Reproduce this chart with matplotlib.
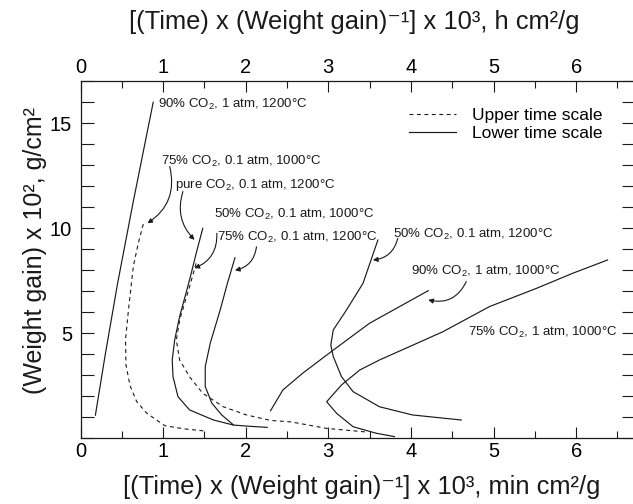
import matplotlib
matplotlib.use("Agg")
import matplotlib.pyplot as plt
from matplotlib.ticker import MultipleLocator, FixedLocator

plt.rcParams["font.family"] = ["Liberation Sans", "DejaVu Sans"]
plt.rcParams["mathtext.fontset"] = "custom"
plt.rcParams["mathtext.rm"] = "Liberation Sans"
plt.rcParams["mathtext.it"] = "Liberation Sans:italic"
plt.rcParams["mathtext.bf"] = "Liberation Sans:bold"

# curves: x = (time / weight gain) x 1e3, y = weight gain x 1e2
co2_90_1atm_1200_x = [0.18, 0.30, 0.45, 0.64, 0.88]
co2_90_1atm_1200_y = [1.1, 4.0, 7.4, 11.3, 16.0]

co2_75_01atm_1000_x = [0.76, 0.70, 0.64, 0.58, 0.545, 0.55, 0.60, 0.68, 0.80, 1.02, 1.25, 1.50]
co2_75_01atm_1000_y = [10.2, 9.3, 8.2, 6.1, 4.7, 3.5, 2.5, 1.75, 1.2, 0.6, 0.45, 0.35]

pure_co2_01atm_1200_x = [1.48, 1.40, 1.32, 1.20, 1.14, 1.11, 1.12, 1.18, 1.32, 1.61, 1.85, 2.05, 2.26]
pure_co2_01atm_1200_y = [10.0, 8.8, 7.54, 5.8, 4.68, 3.73, 2.93, 1.98, 1.35, 0.87, 0.63, 0.57, 0.52]

co2_50_01atm_1000_x = [1.40, 1.32, 1.20, 1.16, 1.20, 1.32, 1.48, 1.73, 2.01, 2.30, 2.55, 2.98, 3.46]
co2_50_01atm_1000_y = [8.33, 7.22, 5.63, 4.68, 3.73, 2.93, 2.14, 1.5, 1.11, 0.85, 0.78, 0.47, 0.30]

co2_75_01atm_1200_x = [1.87, 1.78, 1.69, 1.57, 1.51, 1.51, 1.59, 1.71, 1.85]
co2_75_01atm_1200_y = [8.6, 7.4, 6.1, 4.52, 3.41, 2.46, 1.67, 1.11, 0.64]

co2_50_01atm_1200_x = [3.60, 3.42, 3.22, 3.06, 3.03, 3.06, 3.16, 3.30, 3.62, 4.02, 4.61]
co2_50_01atm_1200_y = [9.44, 7.38, 6.11, 5.16, 4.44, 3.89, 2.93, 2.22, 1.5, 1.11, 0.87]

co2_90_1atm_1000_x = [2.30, 2.45, 2.69, 3.06, 3.50, 4.21]
co2_90_1atm_1000_y = [1.31, 2.3, 3.1, 4.2, 5.48, 7.03]

co2_75_1atm_1000_x = [3.80, 3.58, 3.30, 3.10, 2.98, 3.16, 3.38, 3.62, 3.98, 4.39, 4.95, 5.52, 5.96, 6.38]
co2_75_1atm_1000_y = [0.08, 0.24, 0.55, 1.19, 1.74, 2.54, 3.25, 3.73, 4.36, 5.08, 6.27, 7.14, 7.86, 8.49]

# (text, x, y) for the curve labels
labels = [
    ("90% CO$_2$, 1 atm, 1200°C", 0.94, 15.95),
    ("75% CO$_2$, 0.1 atm, 1000°C", 0.98, 13.25),
    ("pure CO$_2$, 0.1 atm, 1200°C", 1.14, 12.14),
    ("50% CO$_2$, 0.1 atm, 1000°C", 1.61, 10.71),
    ("75% CO$_2$, 0.1 atm, 1200°C", 1.65, 9.6),
    ("50% CO$_2$, 0.1 atm, 1200°C", 3.78, 9.76),
    ("90% CO$_2$, 1 atm, 1000°C", 4.0, 8.01),
    ("75% CO$_2$, 1 atm, 1000°C", 4.69, 5.08),
]

# (tail, head, rad) for the pointer arrows
arrows = [
    ((1.08, 12.94), (0.81, 10.24), -0.35),
    ((1.24, 11.75), (1.38, 9.45), 0.3),
    ((1.65, 9.76), (1.38, 8.1), -0.35),
    ((2.13, 9.12), (1.87, 8.0), -0.35),
    ((3.84, 9.52), (3.54, 8.49), -0.35),
    ((4.67, 7.46), (4.21, 6.59), -0.4),
]

x_ticks = [0, 1, 2, 3, 4, 5, 6]
y_ticks = [5, 10, 15]

ink = "#1a1a1a"
dash = (0, (3.5, 3.2))

fig = plt.figure(figsize=(6.33, 5.04), dpi=100)
ax = fig.add_axes([0.1272, 0.1304, 0.8743, 0.7083])

solid_kw = dict(color=ink, lw=0.85)
dash_kw = dict(color=ink, lw=0.8, linestyle=dash)

ax.plot(co2_90_1atm_1200_x, co2_90_1atm_1200_y, **solid_kw)
ax.plot(co2_75_01atm_1000_x, co2_75_01atm_1000_y, **dash_kw)
ax.plot(pure_co2_01atm_1200_x, pure_co2_01atm_1200_y, **solid_kw)
ax.plot(co2_50_01atm_1000_x, co2_50_01atm_1000_y, **dash_kw)
ax.plot(co2_75_01atm_1200_x, co2_75_01atm_1200_y, **solid_kw)
ax.plot(co2_50_01atm_1200_x, co2_50_01atm_1200_y, **solid_kw)
ax.plot(co2_90_1atm_1000_x, co2_90_1atm_1000_y, **solid_kw)
ax.plot(co2_75_1atm_1000_x, co2_75_1atm_1000_y, **solid_kw)

for txt, x, y in labels:
    ax.text(x, y - 0.22, txt, fontsize=9.5, ha="left", va="baseline", color=ink)

for tail, head, rad in arrows:
    ax.annotate("", xy=head, xytext=tail,
                arrowprops=dict(arrowstyle="-|>", color=ink, lw=0.8,
                                mutation_scale=7,
                                connectionstyle=f"arc3,rad={rad}",
                                shrinkA=0, shrinkB=0))

h_up, = ax.plot([], [], **dash_kw)
h_low, = ax.plot([], [], **solid_kw)
ax.legend([h_up, h_low], ["Upper time scale", "Lower time scale"],
          loc="upper left", bbox_to_anchor=(3.98, 15.75),
          bbox_transform=ax.transData, frameon=False, fontsize=12.5,
          handlelength=2.7, handletextpad=0.9, labelspacing=0.2,
          borderpad=0, borderaxespad=0)

ax.set_xlim(0, 6.7)
ax.set_ylim(0, 17)
ax.xaxis.set_major_locator(FixedLocator(x_ticks))
ax.xaxis.set_minor_locator(MultipleLocator(0.5))
ax.yaxis.set_major_locator(FixedLocator(y_ticks))
ax.yaxis.set_minor_locator(MultipleLocator(1))
ax.tick_params(axis="x", which="both", direction="in", top=True, bottom=True,
               labeltop=True, labelbottom=True, labelsize=14.5, pad=3, color=ink)
ax.tick_params(axis="x", which="major", length=8, width=0.8)
ax.tick_params(axis="x", which="minor", length=5, width=0.8)
ax.tick_params(axis="y", which="both", direction="in", left=True, right=True,
               labelsize=14.5, pad=6, color=ink, length=9, width=0.8)
for s in ax.spines.values():
    s.set_linewidth(0.9)
    s.set_color(ink)

fig.text(129 / 633, 0.956, "[(Time) x (Weight gain)⁻¹] x 10³, h cm²/g",
         ha="left", va="center", fontsize=18.4, color=ink)
fig.text(123 / 633, 0.034, "[(Time) x (Weight gain)⁻¹] x 10³, min cm²/g",
         ha="left", va="center", fontsize=18.4, color=ink)
fig.text(0.055, 0.502, "(Weight gain) x 10², g/cm²", rotation=90,
         ha="center", va="center", fontsize=18, color=ink)

fig.savefig("out.png", dpi=100)
